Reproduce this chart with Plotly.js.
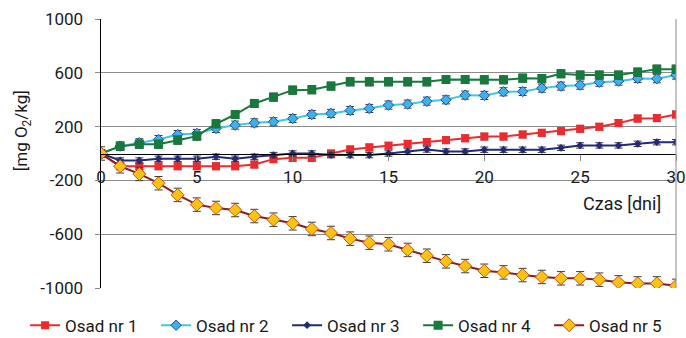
<!DOCTYPE html>
<html>
<head>
<meta charset="utf-8">
<script src="https://cdn.plot.ly/plotly-3.0.1.min.js"></script>
<style>html,body{margin:0;padding:0;background:#fff}#chart{width:686px;height:338px}</style>
</head>
<body>
<div id="chart"></div>
<script>
// Data
const days = [0,1,2,3,4,5,6,7,8,9,10,11,12,13,14,15,16,17,18,19,20,21,22,23,24,25,26,27,28,29,30];
const seriesNames = ["Osad nr 1","Osad nr 2","Osad nr 3","Osad nr 4","Osad nr 5"];
const osad1 = [0,-95,-95,-95,-95,-95,-95,-95,-82,-42,-32,-32,0,30,45,58,72,85,99,113,126,126,141,154,166,184,199,226,260,263,290];
const osad2 = [0,55,80,104,141,149,186,211,228,236,260,290,298,320,335,360,367,389,399,434,432,459,461,486,501,508,530,538,558,556,583];
const osad3 = [0,-52,-52,-39,-39,-39,-24,-39,-24,-12,0,0,-12,-12,-12,0,15,30,15,15,28,28,28,28,42,60,60,60,72,84,84];
const osad4 = [0,54,69,69,99,129,221,290,372,419,471,474,501,533,533,533,533,533,550,550,548,548,560,557,593,583,583,583,605,627,627];
const osad5 = [0,-95,-152,-221,-308,-380,-405,-420,-465,-492,-519,-561,-591,-633,-663,-675,-717,-760,-802,-837,-872,-884,-904,-918,-928,-928,-938,-958,-966,-966,-984];
const errors = [25,30,20,30,50];
const yTicks = [-1000,-600,-200,200,600,1000];
const xTicks = [0,5,10,15,20,25,30];

const FONT = "Roboto, 'Open Sans', sans-serif";
const allValues = [osad1, osad2, osad3, osad4, osad5];
const styles = [
  {line:{color:'#EE2A2E',width:2}, marker:{symbol:'square',size:8,color:'#EE2A2E',line:{width:0}}},
  {line:{color:'#3CC6F2',width:2}, marker:{symbol:'diamond',size:8,color:'#3BB2EC',line:{color:'#234D9E',width:1}}},
  {line:{color:'#232A78',width:2}, marker:{symbol:'diamond',size:6,color:'#232A78',line:{width:0}}},
  {line:{color:'#17793B',width:2}, marker:{symbol:'square',size:9,color:'#17793B',line:{width:0}}},
  {line:{color:'#8E1C1C',width:2}, marker:{symbol:'diamond',size:10,color:'#FFC20E',line:{color:'#C0501A',width:1}}}
];
const traces = allValues.map((vals, i) => ({
  type:'scatter', mode:'lines+markers', name: seriesNames[i],
  x: days, y: vals,
  line: styles[i].line, marker: styles[i].marker,
  error_y: {type:'constant', value: errors[i], color:'#3a3a3a', thickness:1, width:4}
}));

const layout = {
  width:686, height:338,
  margin:{l:101, r:10, t:19, b:50, autoexpand:false},
  paper_bgcolor:'#fff', plot_bgcolor:'#fff',
  font:{family:FONT, size:17, color:'#1a1a1a'},
  showlegend:true,
  legend:{orientation:'h', x:-0.132, xanchor:'left', y:-0.14, yanchor:'middle',
          font:{family:FONT, size:17, color:'#1a1a1a'}, entrywidth:86, entrywidthmode:'pixels',
          bgcolor:'rgba(0,0,0,0)', traceorder:'normal'},
  xaxis:{range:[0,30], tickvals:xTicks, ticktext:xTicks.map(String),
         anchor:'free', position:0.5,
         showline:true, linecolor:'#000', linewidth:1.5,
         ticks:'outside', ticklen:6, tickcolor:'#8a8a8a', tickwidth:1,
         showgrid:false, zeroline:false, ticklabelstandoff:2,
         tickfont:{family:FONT, size:17, color:'#1a1a1a'}},
  yaxis:{range:[-1000,1000], tickvals:yTicks, ticktext:yTicks.map(String),
         showline:true, linecolor:'#000', linewidth:1.5,
         ticks:'outside', ticklen:5, tickcolor:'#8a8a8a', tickwidth:1,
         showgrid:true, gridcolor:'#8c8c8c', gridwidth:1, zeroline:false,
         ticklabelstandoff:8,
         tickfont:{family:FONT, size:17, color:'#1a1a1a'}},
  shapes:[
    {type:'line', xref:'paper', yref:'paper', x0:1, x1:1, y0:0, y1:1, line:{color:'#8c8c8c', width:1}}
  ],
  annotations:[
    {text:'[mg O<sub>2</sub>/kg]', xref:'paper', yref:'paper', x:-0.135, y:0.584,
     xanchor:'center', yanchor:'middle', textangle:-90, showarrow:false,
     font:{family:FONT, size:17, color:'#1a1a1a'}},
    {text:'Czas [dni]', xref:'x', yref:'y', x:29.3, y:-370, xanchor:'right', yanchor:'middle',
     showarrow:false, font:{family:FONT, size:18, color:'#1a1a1a'}}
  ]
};

Plotly.newPlot('chart', traces, layout, {displayModeBar:false, staticPlot:true});
</script>
</body>
</html>
